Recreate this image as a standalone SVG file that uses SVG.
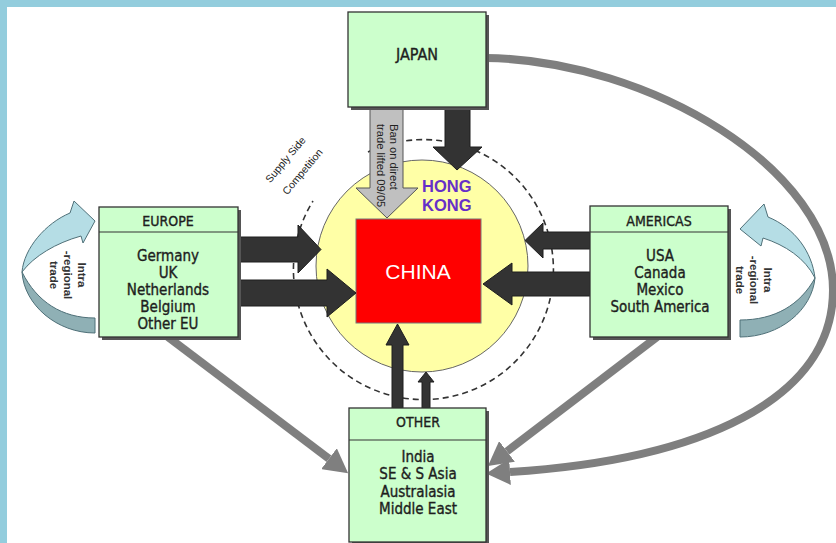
<svg xmlns="http://www.w3.org/2000/svg" width="836" height="543" viewBox="0 0 836 543">
<style>
.box{fill:#ccffcc;stroke:#333;stroke-width:1.3}
.shadow{fill:#555}
.hline{stroke:#333;stroke-width:1.2}
.t{font-family:"Liberation Sans Narrow","DejaVu Sans Condensed","Liberation Sans",Arial,sans-serif;fill:#1e1e1e;stroke:#1e1e1e;stroke-width:0.35;text-anchor:middle}
.hd{font-size:14px}
.it{font-size:15px}
.blk{fill:#333;stroke:#1e1e1e;stroke-width:1}
.gl{fill:none;stroke:#7f7f7f;stroke-width:8}
.lb{fill:#b5dde5;stroke:#4f7078;stroke-width:1}
.db{fill:#8fb0b5;stroke:#4f7078;stroke-width:1}
.rot{font-family:"Liberation Sans",Arial,sans-serif;font-size:11.5px;font-weight:bold;fill:#333;text-anchor:middle}
.sm{font-family:"Liberation Sans",Arial,sans-serif;fill:#222}
</style>
<defs>
<marker id="ga" viewBox="0 0 24 26" refX="0" refY="13" markerWidth="24" markerHeight="26" markerUnits="userSpaceOnUse" orient="auto">
<path d="M0,0 L24,13 L0,26 Z" fill="#7f7f7f"/>
</marker>
</defs>
<rect x="0" y="0" width="836" height="543" fill="#ffffff"/>
<g id="frame">
<rect x="0" y="0" width="836" height="7" fill="#93cddd"/>
<rect x="0" y="0" width="7" height="543" fill="#93cddd"/>
</g>

<g id="hongkong-zone">
<circle cx="422" cy="266" r="106" fill="#ffffa6" stroke="#666" stroke-width="1"/>
<path d="M368,152 A130,130 0 1 1 313,201" fill="none" stroke="#333" stroke-width="1.6" stroke-dasharray="6 4"/>
<text x="422" y="192" font-family="Liberation Sans,Arial,sans-serif" font-size="16.5" font-weight="bold" fill="#6630c8">HONG</text>
<text x="422" y="211" font-family="Liberation Sans,Arial,sans-serif" font-size="16.5" font-weight="bold" fill="#6630c8">KONG</text>
<text class="sm" transform="translate(286,160) rotate(-50)" font-size="10.5" fill="#444" text-anchor="middle" dy="3">Supply Side</text>
<text class="sm" transform="translate(303,172) rotate(-50)" font-size="10.5" fill="#444" text-anchor="middle" dy="3">Competition</text>
</g>

<g id="node-china">
<rect x="356" y="219" width="125" height="104" fill="#ff0000" stroke="#777" stroke-width="1"/>
<text x="418" y="279" font-family="Liberation Sans,Arial,sans-serif" font-size="21" fill="#ffffff" text-anchor="middle">CHINA</text>
</g>

<g id="connectors">
<path class="gl" d="M486,58 C650,60 833,170 833,290 C833,400 700,460 510,472" stroke-width="7" marker-end="url(#ga)"/>
<path class="gl" d="M168,337 L329,458.7" marker-end="url(#ga)"/>
<path class="gl" d="M657,337 L507,451.4" marker-end="url(#ga)"/>
<path class="blk" d="M445,107 L470,107 L470,147 L482,147 L457,170 L433,147 L445,147 Z"/>
<path d="M370,107 L403,107 L403,188 L418,188 L387,218 L356,188 L370,188 Z" fill="#c0c0c0" stroke="#555" stroke-width="1"/>
<text class="sm" transform="translate(390,124) rotate(90)" font-size="11.2">Ban on direct</text>
<text class="sm" transform="translate(377,124) rotate(90)" font-size="11.2">trade lifted 09/05</text>
<path class="blk" d="M238,237 L298,237 L298,225 L321,249.5 L298,273 L298,262 L238,262 Z"/>
<path class="blk" d="M238,280 L327,280 L327,269 L356,293 L327,317 L327,306 L238,306 Z"/>
<path class="blk" d="M590,232 L543,232 L543,223 L525,240.5 L543,258 L543,249 L590,249 Z"/>
<path class="blk" d="M590,272 L512,272 L512,263 L483,284 L512,305 L512,296 L590,296 Z"/>
<path class="blk" d="M392,408 L392,345 L386,345 L397.5,324 L409,345 L403,345 L403,408 Z"/>
<path class="blk" d="M422,408 L422,382 L418,382 L426,372 L434,382 L430,382 L430,408 Z"/>
</g>

<g id="node-japan">
<rect class="shadow" x="351" y="15" width="138" height="95"/>
<rect class="box" x="348" y="12" width="138" height="95"/>
<text class="t" x="417" y="60" font-size="16">JAPAN</text>
</g>

<g id="node-europe">
<rect class="shadow" x="102" y="210" width="139" height="130"/>
<rect class="box" x="99" y="207" width="139" height="130"/>
<line class="hline" x1="99" y1="232" x2="238" y2="232"/>
<text class="t hd" x="168" y="226">EUROPE</text>
<text class="t it" x="168" y="261">Germany</text>
<text class="t it" x="168" y="278">UK</text>
<text class="t it" x="168" y="295">Netherlands</text>
<text class="t it" x="168" y="312">Belgium</text>
<text class="t it" x="168" y="329">Other EU</text>
</g>

<g id="node-americas">
<rect class="shadow" x="593" y="209" width="138" height="131"/>
<rect class="box" x="590" y="206" width="138" height="131"/>
<line class="hline" x1="590" y1="232" x2="728" y2="232"/>
<text class="t hd" x="659" y="226">AMERICAS</text>
<text class="t it" x="660" y="261">USA</text>
<text class="t it" x="660" y="278">Canada</text>
<text class="t it" x="660" y="295">Mexico</text>
<text class="t it" x="660" y="312">South America</text>
</g>

<g id="node-other">
<rect class="shadow" x="352" y="411" width="137" height="134"/>
<rect class="box" x="349" y="408" width="137" height="134"/>
<line class="hline" x1="349" y1="440" x2="486" y2="440"/>
<text class="t hd" x="418" y="427">OTHER</text>
<text class="t it" x="418" y="462">India</text>
<text class="t it" x="418" y="479">SE &amp; S Asia</text>
<text class="t it" x="418" y="497">Australasia</text>
<text class="t it" x="418" y="514">Middle East</text>
</g>

<g id="intra-left">
<path class="db" d="M22,272 C24,305 57,333 95,333 L95,318 C62,318 37,302 22,272 Z"/>
<path class="lb" d="M22,272 C24,248 46,223 70,213 L74,201 L95,221 L83,243 L81,236 C56,243 34,256 22,272 Z"/>
<text class="rot" transform="translate(78,275) rotate(90)">Intra</text>
<text class="rot" transform="translate(64,275) rotate(90)">-regional</text>
<text class="rot" transform="translate(50,275) rotate(90)">trade</text>
</g>

<g id="intra-right">
<path class="db" d="M815,278 C812,310 780,337 740,337 L740,320 C775,320 800,305 815,278 Z"/>
<path class="lb" d="M815,278 C812,252 795,228 768,217 L764,204 L740,229 L761,246 L763,238 C785,245 805,258 815,278 Z"/>
<text class="rot" transform="translate(764,280) rotate(90)">Intra</text>
<text class="rot" transform="translate(750,280) rotate(90)">-regional</text>
<text class="rot" transform="translate(736,280) rotate(90)">trade</text>
</g>
</svg>
